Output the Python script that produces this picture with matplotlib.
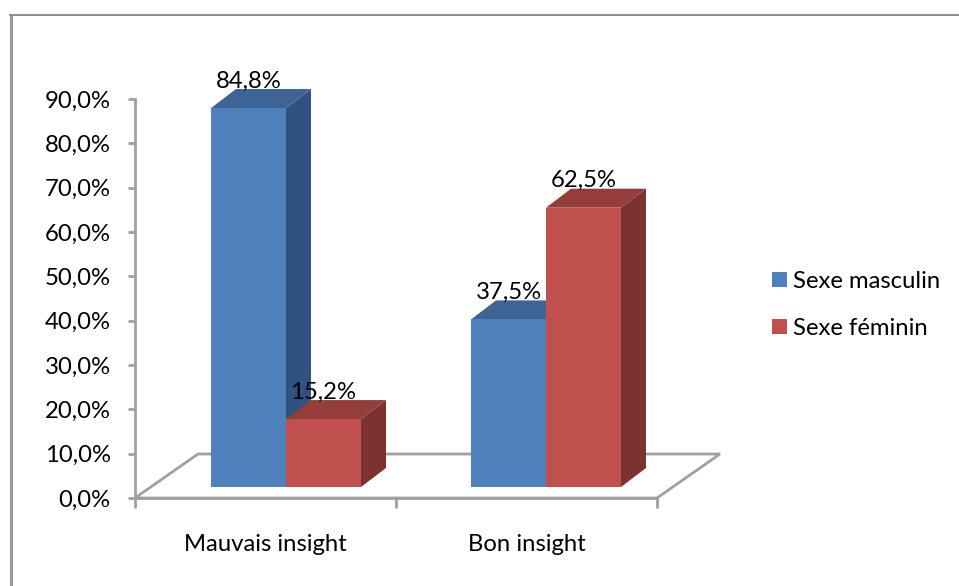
#!/usr/bin/env python3
"""Excel style 3D clustered bars, drawn on a plain 2D axes."""
import matplotlib

matplotlib.use("Agg")
import matplotlib.pyplot as plt
from matplotlib.patches import Polygon, Rectangle

categories = ["Mauvais insight", "Bon insight"]
series_names = ["Sexe masculin", "Sexe féminin"]
masculin = [84.8, 37.5]
feminin = [15.2, 62.5]
value_ticks = [0, 10, 20, 30, 40, 50, 60, 70, 80, 90]

W, H = 959, 586
GREY = "#a0a0a0"
FRONT = ["#4f81bd", "#c0504d"]
TOP = ["#3c6595", "#953d3a"]
SIDE = ["#2f5280", "#7b3230"]
FONT_SIZE = 17.2

plt.rcParams["font.family"] = ["Lato", "DejaVu Sans"]

fig = plt.figure(figsize=(W / 100, H / 100), dpi=100)
fig.patch.set_facecolor("white")

# axes box is the front plane of the 3D floor, in pixels of the reference
left, right, bottom, top = 135, 657, 498, 99
ax = fig.add_axes([left / W, 1 - bottom / H, (right - left) / W, (bottom - top) / H])
ax.set_xlim(0, len(categories))
ax.set_ylim(0, 90)
ax.patch.set_visible(False)

# scale helpers: pixel offsets of the 3D projection into data units
px_x = len(categories) / (right - left)
px_y = 90 / (bottom - top)

# floor
depth_x, depth_y = 63 * px_x, 44 * px_y
ax.add_patch(
    Polygon(
        [(0, 0), (2, 0), (2 + depth_x, depth_y), (depth_x, depth_y)],
        closed=True, fill=False, edgecolor=GREY, linewidth=2, clip_on=False, zorder=1,
    )
)

# bars sit further back than the axis, so they draw a touch taller than its scale
bar_w = 75 * px_x
base = 11 * px_y
bar_scale = 1.008
dx, dy = 25 * px_x, 19 * px_y
centers = [(286 - left) * px_x, (546 - left) * px_x]


def draw_bar(x0, value, idx, z):
    h = base + value * bar_scale
    x1 = x0 + bar_w
    ax.add_patch(Polygon([(x1, base), (x1 + dx, base + dy), (x1 + dx, h + dy), (x1, h)],
                         closed=True, facecolor=SIDE[idx], edgecolor="none", clip_on=False, zorder=z))
    ax.add_patch(Polygon([(x0, h), (x0 + dx, h + dy), (x1 + dx, h + dy), (x1, h)],
                         closed=True, facecolor=TOP[idx], edgecolor="none", clip_on=False, zorder=z))
    ax.add_patch(Rectangle((x0, base), bar_w, h - base, facecolor=FRONT[idx], edgecolor="none",
                           clip_on=False, zorder=z + 0.1))


for c, m, f in zip(centers, masculin, feminin):
    draw_bar(c - bar_w, m, 0, 3)
    draw_bar(c, f, 1, 4)

for c, m, f in zip(centers, masculin, feminin):
    for x0, value in [(c - bar_w, m), (c, f)]:
        ax.text(x0 + bar_w / 2, base + value * bar_scale + 27 * px_y, f"{value:.1f}%".replace(".", ","),
                ha="center", va="center", fontsize=FONT_SIZE, color="black", zorder=10, clip_on=False)

# axes
for side in ("top", "right"):
    ax.spines[side].set_visible(False)
for side in ("left", "bottom"):
    ax.spines[side].set_color(GREY)
    ax.spines[side].set_linewidth(2)
ax.set_yticks(value_ticks)
ax.set_yticklabels([f"{v:.1f}%".replace(".", ",") for v in value_ticks], fontsize=FONT_SIZE)
ax.set_xticks([0, 1, 2])
ax.set_xticklabels([])
ax.tick_params(axis="y", color=GREY, width=2, length=5, pad=12.5)
ax.tick_params(axis="x", color=GREY, width=2, length=7)

for i, name in enumerate(categories):
    ax.text(i + 0.5, -10.4, name, ha="center", va="center", fontsize=FONT_SIZE, color="black")

# legend
leg_handles = [Rectangle((0, 0), 1, 1, facecolor=FRONT[i], edgecolor="none") for i in range(2)]
fig.legend(leg_handles, series_names, loc="upper left", bbox_to_anchor=(772 / W, 1 - 271 / H),
           frameon=False, fontsize=FONT_SIZE, handlelength=0.625, handleheight=0.625, handletextpad=0.25,
           labelspacing=1.08, borderpad=0, borderaxespad=0)

# outer chart frame, only top and left survive in the scan
fig.add_artist(plt.Line2D([10.5 / W, 10.5 / W], [0, 1 - 14.5 / H], color="#999999", linewidth=2.2))
fig.add_artist(plt.Line2D([9.5 / W, 1], [1 - 15 / H, 1 - 15 / H], color="#8c8c8c", linewidth=1.4))

fig.savefig("out.png", dpi=100)
plt.close(fig)
